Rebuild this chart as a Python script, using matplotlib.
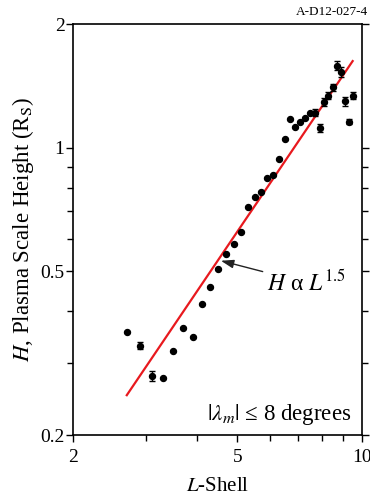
import matplotlib
matplotlib.use("Agg")
import matplotlib.pyplot as plt
from matplotlib.ticker import FixedLocator, NullFormatter, FixedFormatter

plt.rcParams['font.family'] = ['Liberation Serif', 'DejaVu Serif']
plt.rcParams['mathtext.fontset'] = 'stix'

L_shell = [2.7, 2.9, 3.1, 3.3, 3.5, 3.7, 3.9, 4.1, 4.3, 4.5, 4.7, 4.9,
           5.1, 5.3, 5.5, 5.7, 5.9, 6.1, 6.3, 6.5, 6.7, 6.9, 7.1, 7.3,
           7.5, 7.7, 7.9, 8.1, 8.3, 8.5, 8.7, 8.9, 9.1, 9.3, 9.5]
H_scale = [0.356, 0.330, 0.278, 0.275, 0.321, 0.365, 0.346, 0.416, 0.458, 0.507, 0.550, 0.584,
           0.622, 0.717, 0.759, 0.779, 0.842, 0.858, 0.940, 1.048, 1.173, 1.125, 1.157, 1.183,
           1.213, 1.217, 1.119, 1.294, 1.339, 1.403, 1.584, 1.531, 1.297, 1.157, 1.339]
H_err = [0.0, 0.006, 0.008, 0.0, 0.0, 0.0, 0.0, 0.0, 0.0, 0.0, 0.0, 0.0,
         0.0, 0.0, 0.0, 0.0, 0.0, 0.0, 0.0, 0.0, 0.0, 0.0, 0.0, 0.0,
         0.0, 0.022, 0.025, 0.031, 0.025, 0.028, 0.040, 0.043, 0.034, 0.016, 0.028]

fit_L = [2.7, 9.5]
fit_H = [0.250, 1.625]

x_major = [2, 5, 10]
x_major_labels = ['2', '5', '10']
x_minor = [3, 4, 6, 7, 8, 9]
y_major = [0.2, 0.5, 1, 2]
y_major_labels = ['0.2', '0.5', '1', '2']
y_minor = [0.3, 0.4, 0.6, 0.7, 0.8, 0.9]

fig = plt.figure(figsize=(3.70, 4.97), dpi=100)
ax = fig.add_axes([0.197, 0.1247, 0.781, 0.827])
ax.set_xscale('log')
ax.set_yscale('log')
ax.set_xlim(2, 10)
ax.set_ylim(0.2, 2)

ax.plot(fit_L, fit_H, color='#e8191e', lw=1.6, zorder=2)
ax.errorbar(L_shell, H_scale, yerr=H_err, fmt='o', color='black', ms=4.3,
            elinewidth=1.0, capsize=2.0, capthick=1.0, zorder=3)

ax.xaxis.set_major_locator(FixedLocator(x_major))
ax.xaxis.set_major_formatter(FixedFormatter(x_major_labels))
ax.xaxis.set_minor_locator(FixedLocator(x_minor))
ax.xaxis.set_minor_formatter(NullFormatter())
ax.yaxis.set_major_locator(FixedLocator(y_major))
ax.yaxis.set_major_formatter(FixedFormatter(y_major_labels))
ax.yaxis.set_minor_locator(FixedLocator(y_minor))
ax.yaxis.set_minor_formatter(NullFormatter())

ax.tick_params(axis='both', which='both', direction='out', labelsize=14, width=1.0)
ax.tick_params(axis='both', which='major', length=5)
ax.tick_params(axis='both', which='minor', length=4)
ax.tick_params(axis='x', which='both', top=False, pad=5)
ax.tick_params(axis='y', which='both', right=True, left=True, pad=1)

for s in ax.spines.values():
    s.set_linewidth(1.2)

ax.set_xlabel('$\\mathit{L}$-Shell', fontsize=15, labelpad=8)
ax.set_ylabel('$\\mathit{H}$, Plasma Scale Height (R$_\\mathrm{S}$)', fontsize=16.5, labelpad=3)

ax.annotate('$H$ α $L^{1.5}$', xy=(4.56, 0.531), xytext=(5.89, 0.469),
            ha='left', va='center', fontsize=17,
            arrowprops=dict(arrowstyle='-|>,head_length=0.45,head_width=0.15',
                            color='#222222', lw=1.0, shrinkA=1, shrinkB=0))

ax.text(0.965, 0.036, '$|\\lambda_m|$ ≤ 8 degrees', transform=ax.transAxes,
        ha='right', va='baseline', fontsize=16.5)

fig.text(0.995, 0.988, 'A-D12-027-4', ha='right', va='top', fontsize=9.5)

fig.savefig('out.png', dpi=100)
